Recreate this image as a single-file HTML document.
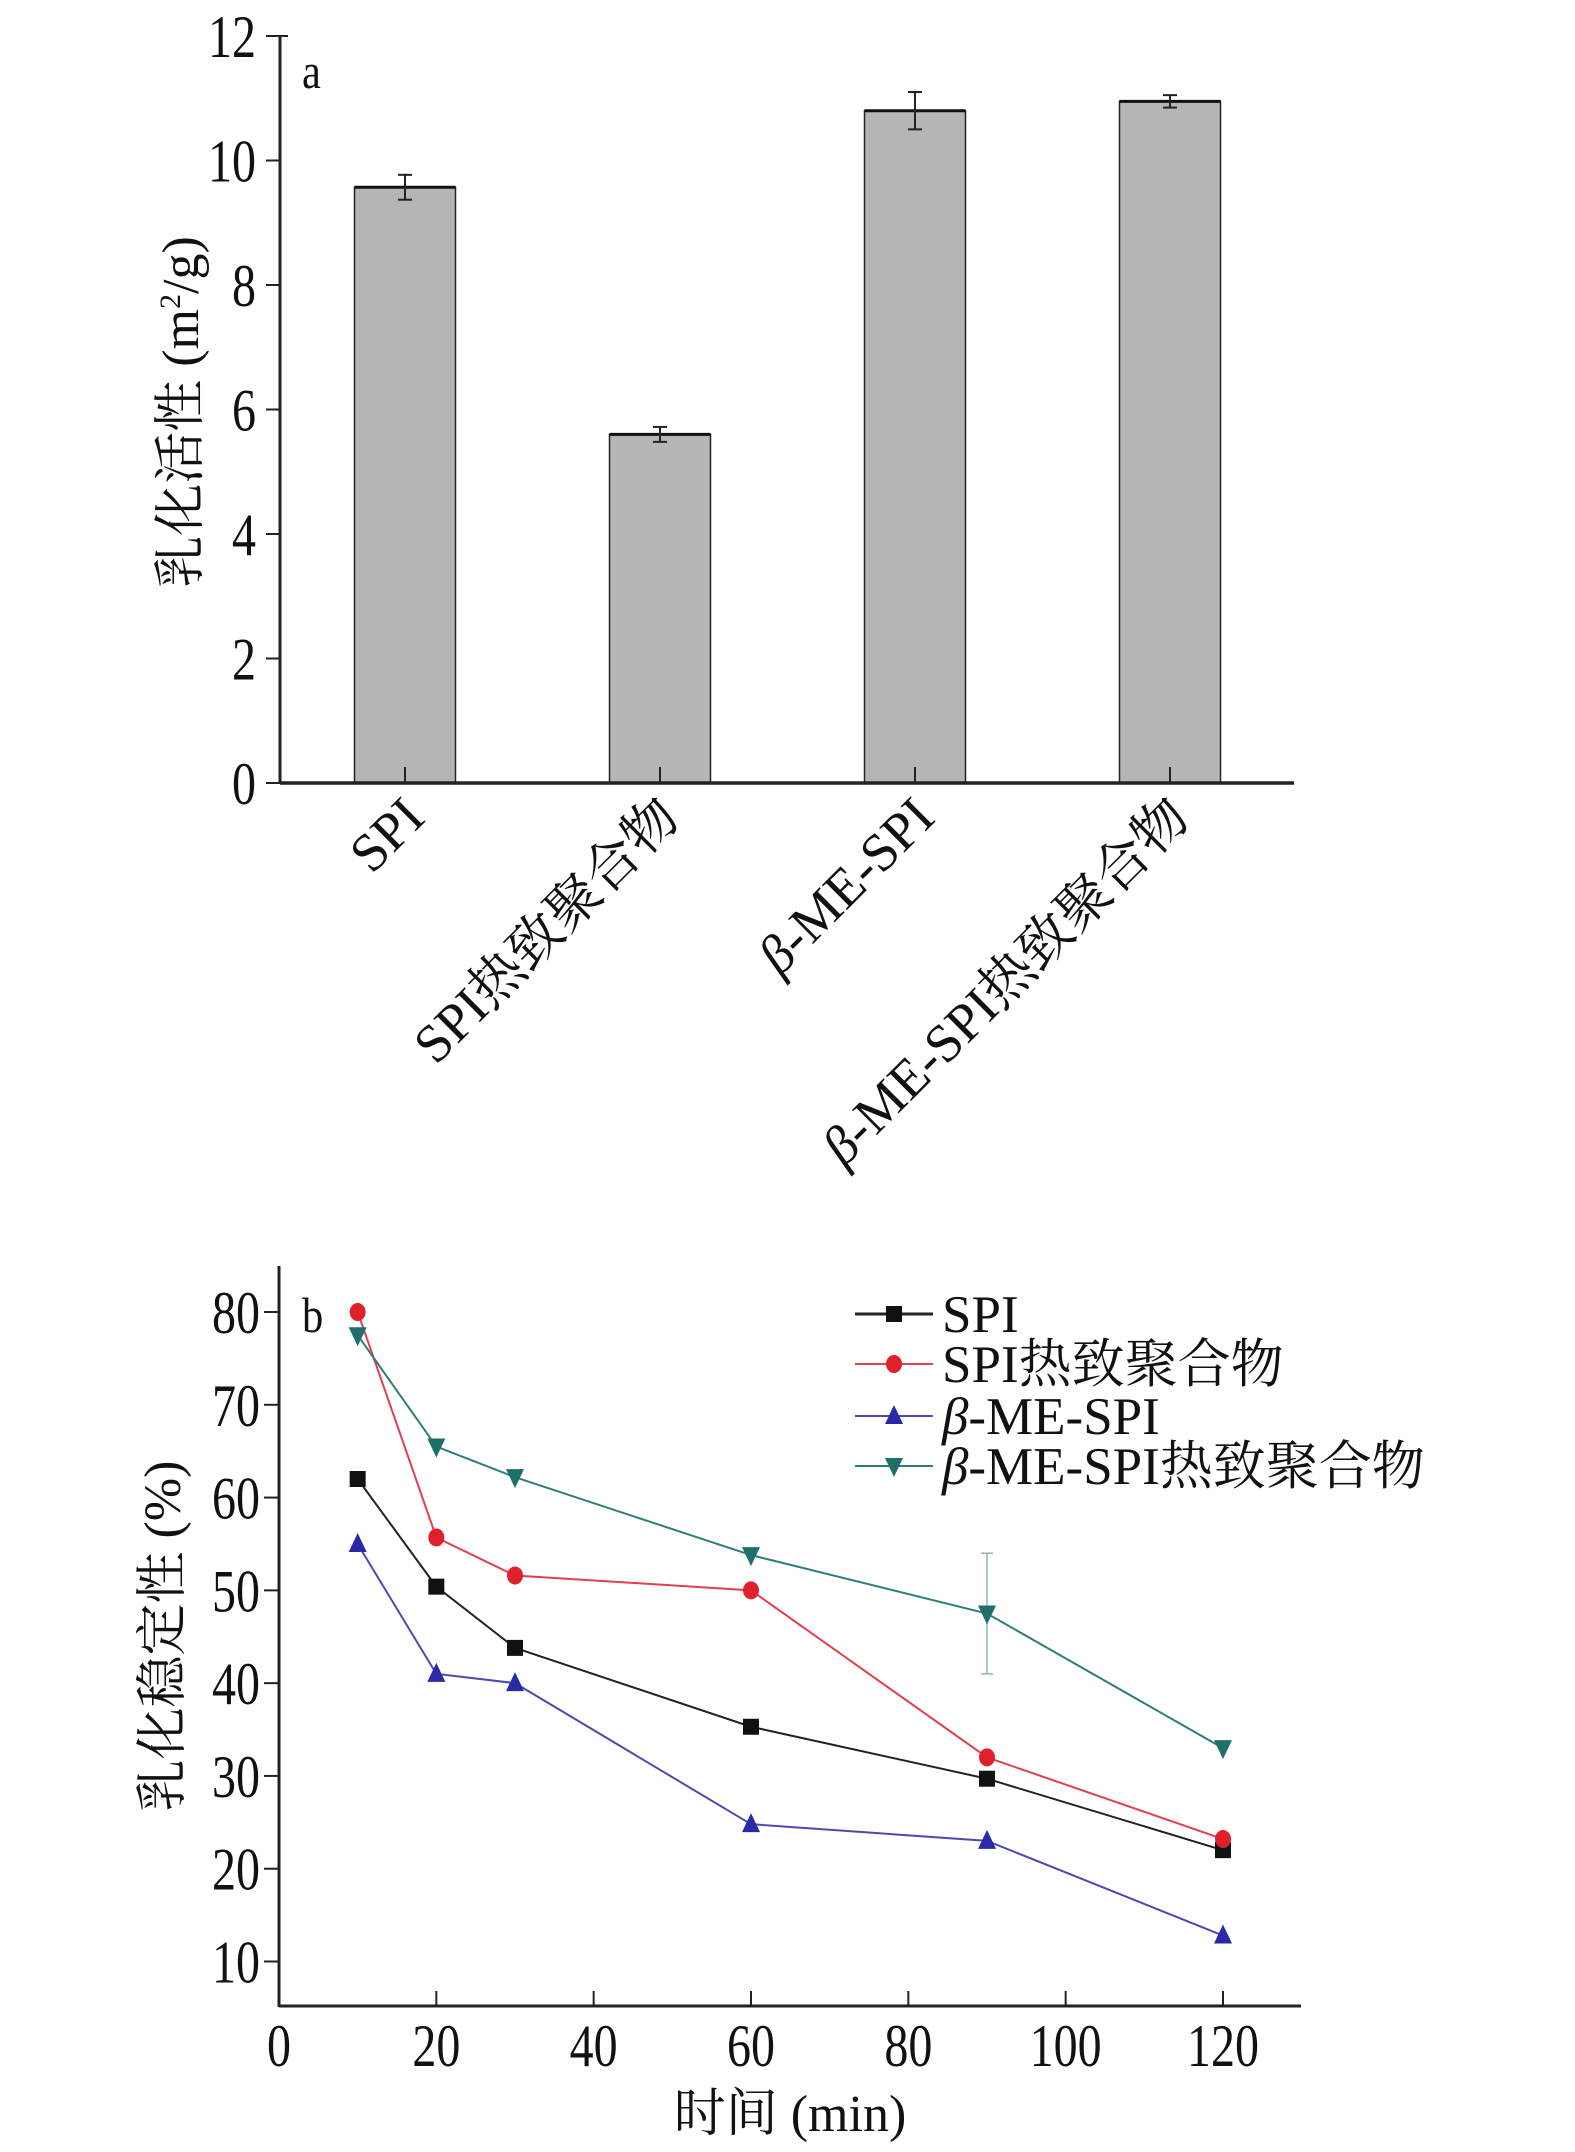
<!DOCTYPE html>
<html><head><meta charset="utf-8"><style>
html,body{margin:0;padding:0;background:#fff;}
svg{display:block;font-family:"Liberation Serif","Noto Serif CJK SC",serif;}
</style></head><body>
<svg id="root" width="1575" height="2152" viewBox="0 0 1575 2152" xmlns="http://www.w3.org/2000/svg">
<g id="chartA"></g>
<g id="chartB"></g>
</svg>
<script>
// ---- Chart A data ----
const catsA = ["SPI", "SPI热致聚合物", "β-ME-SPI", "β-ME-SPI热致聚合物"];
const valsA = [9.57, 5.6, 10.8, 10.95];
const errsA = [0.2, 0.12, 0.3, 0.1];
const ticksA = [0, 2, 4, 6, 8, 10, 12];
// ---- Chart B data ----
const timesB = [10, 20, 30, 60, 90, 120];
const seriesSPI = [62, 50.4, 43.8, 35.3, 29.7, 22];
const seriesHeat = [80, 55.7, 51.6, 50, 32, 23.2];
const seriesBME = [55, 41, 40, 24.8, 23, 12.8];
const seriesBMEHeat = [77.5, 65.5, 62.2, 53.8, 47.5, 33];
const errBMEHeat = [0, 0, 0, 0, 6.5, 0];
const ticksBx = [0, 20, 40, 60, 80, 100, 120];
const ticksBy = [10, 20, 30, 40, 50, 60, 70, 80];
const namesB = ["SPI", "SPI热致聚合物", "β-ME-SPI", "β-ME-SPI热致聚合物"];

const NS = "http://www.w3.org/2000/svg";
function mk(parent, tag, attrs) {
  const e = document.createElementNS(NS, tag);
  for (const k in attrs) e.setAttribute(k, attrs[k]);
  parent.appendChild(e);
  return e;
}
function ctext(parent, x, y, str, size, anchor, sx) {
  const t = mk(parent, "text", {transform: `translate(${x},${y}) scale(${sx},1)`, "font-size": size, "text-anchor": anchor, fill: "#111"});
  t.textContent = str;
  return t;
}
function richLabel(t, n) {
  if (n.startsWith("β")) t.innerHTML = '<tspan font-style="italic">β</tspan>' + n.slice(1);
  else t.textContent = n;
}

// ---- Chart A ----
const A = document.getElementById("chartA");
const ax0 = 280, ax1 = 1294, ayTop = 36, ayZero = 783;
const yA = v => ayZero - (v / 12) * (ayZero - ayTop);
const xA = i => 405 + i * 255;
const bwA = 101;
ticksA.forEach(t => {
  const tk = mk(A, "line", {x1: ax0 - 14, x2: ax0, y1: yA(t), y2: yA(t), stroke: "#222", "stroke-width": 2});
  
  
  const lb = ctext(A, 256, yA(t) + 21, String(t), 60, "end", 0.8);
  
  
});
valsA.forEach((v, i) => {
  const r = mk(A, "rect", {x: xA(i) - bwA / 2, y: yA(v), width: bwA, height: ayZero - yA(v), fill: "#b5b5b5", stroke: "#222", "stroke-width": 1.5});
  
  
  mk(A, "line", {x1: xA(i) - bwA / 2, x2: xA(i) + bwA / 2, y1: yA(v), y2: yA(v), stroke: "#111", "stroke-width": 3});
  const e = errsA[i];
  const g = mk(A, "g", {stroke: "#222", "stroke-width": 2});
  
  
  mk(g, "line", {x1: xA(i), x2: xA(i), y1: yA(v + e), y2: yA(v - e)});
  mk(g, "line", {x1: xA(i) - 7, x2: xA(i) + 7, y1: yA(v + e), y2: yA(v + e)});
  mk(g, "line", {x1: xA(i) - 7, x2: xA(i) + 7, y1: yA(v - e), y2: yA(v - e)});
  mk(A, "line", {x1: xA(i), x2: xA(i), y1: ayZero - 16, y2: ayZero, stroke: "#222", "stroke-width": 2});
  const lb = mk(A, "text", {transform: `translate(${xA(i) + 22},820) rotate(-45)`, "font-size": 54, "text-anchor": "end", fill: "#111"});
  richLabel(lb, catsA[i]);
  
  
});
mk(A, "line", {x1: ax0, x2: ax0, y1: ayTop - 1, y2: ayZero + 1, stroke: "#222", "stroke-width": 3});
mk(A, "line", {x1: ax0, x2: ax0 + 8, y1: ayTop, y2: ayTop, stroke: "#222", "stroke-width": 2});
mk(A, "line", {x1: ax0, x2: ax1, y1: ayZero, y2: ayZero, stroke: "#222", "stroke-width": 3.5});
const la = ctext(A, 302, 88, "a", 50, "start", 0.85);


const yla = mk(A, "text", {transform: "translate(198,412) rotate(-90)", "font-size": 52, "text-anchor": "middle", fill: "#111"});
yla.innerHTML = '乳化活性 (m<tspan dy="-18" font-size="30">2</tspan><tspan dy="18">/g)</tspan>';



// ---- Chart B ----
const B = document.getElementById("chartB");
const bx0 = 279, bx1 = 1301, byTop = 1266, byBot = 2006;
const xB = t => bx0 + t * (1223 - bx0) / 120;
const yB = v => 1961.5 - (v - 10) * (1961.5 - 1312) / 70;
ticksBy.forEach(t => {
  const tk = mk(B, "line", {x1: bx0 - 15, x2: bx0, y1: yB(t), y2: yB(t), stroke: "#222", "stroke-width": 2});
  
  
  const lb = ctext(B, 260, yB(t) + 21, String(t), 60, "end", 0.8);
  
  
});
ticksBx.forEach(t => {
  const tk = mk(B, "line", {x1: xB(t), x2: xB(t), y1: byBot - 15, y2: byBot, stroke: "#222", "stroke-width": 2});
  
  
  const lb = ctext(B, xB(t), 2066, String(t), 60, "middle", 0.8);
  
  
});
mk(B, "line", {x1: bx0, x2: bx0, y1: byTop, y2: byBot + 1, stroke: "#222", "stroke-width": 3});
mk(B, "line", {x1: bx0, x2: bx1, y1: byBot, y2: byBot, stroke: "#222", "stroke-width": 3});

const colors = ["#111111", "#e0202a", "#2a2aa8", "#1e6f6a"];
const lineCols = ["#222", "#e04050", "#4a4ab0", "#2f7d78"];
const allSeries = [seriesSPI, seriesHeat, seriesBME, seriesBMEHeat];
function marker(g, k, x, y) {
  let m;
  if (k === 0) m = mk(g, "rect", {x: x - 8, y: y - 8, width: 16, height: 16, fill: colors[0]});
  else if (k === 1) m = mk(g, "ellipse", {cx: x, cy: y, rx: 8, ry: 9, fill: colors[1]});
  else if (k === 2) m = mk(g, "polygon", {points: `${x},${y - 11} ${x + 9},${y + 8} ${x - 9},${y + 8}`, fill: colors[2]});
  else m = mk(g, "polygon", {points: `${x - 9},${y - 8} ${x + 9},${y - 8} ${x},${y + 11}`, fill: colors[3]});
  return m;
}
errBMEHeat.forEach((e, i) => {
  if (e > 0) {
    const eb = mk(B, "g", {stroke: "#8fb5b2", "stroke-width": 1.5});
    
    
    const v = seriesBMEHeat[i], x = xB(timesB[i]);
    mk(eb, "line", {x1: x, x2: x, y1: yB(v + e), y2: yB(v - e)});
    mk(eb, "line", {x1: x - 6, x2: x + 6, y1: yB(v + e), y2: yB(v + e)});
    mk(eb, "line", {x1: x - 6, x2: x + 6, y1: yB(v - e), y2: yB(v - e)});
  }
});
allSeries.forEach((s, k) => {
  const g = mk(B, "g", {});
  
  
  const pts = s.map((v, i) => `${xB(timesB[i])},${yB(v)}`).join(" ");
  mk(g, "polyline", {points: pts, fill: "none", stroke: lineCols[k], "stroke-width": 2});
  s.forEach((v, i) => {
    const m = marker(g, k, xB(timesB[i]), yB(v));
    
    
  });
});
const legY = [1314, 1364, 1416, 1466];
namesB.forEach((n, k) => {
  const g = mk(B, "g", {});
  
  
  mk(g, "line", {x1: 855, x2: 933, y1: legY[k], y2: legY[k], stroke: lineCols[k], "stroke-width": k === 0 ? 3 : 2});
  marker(g, k, 894, legY[k]);
  const t = mk(g, "text", {x: 942, y: legY[k] + 18, "font-size": 53, fill: "#111"});
  richLabel(t, n);
});
const lbb = ctext(B, 302, 1332, "b", 50, "start", 0.85);


const ylb = mk(B, "text", {transform: "translate(180,1636) rotate(-90)", "font-size": 52, "text-anchor": "middle", fill: "#111"});
ylb.textContent = "乳化稳定性 (%)";


const xlb = mk(B, "text", {x: 790, y: 2131, "font-size": 52, "text-anchor": "middle", fill: "#111"});
xlb.textContent = "时间 (min)";


</script>
</body></html>
